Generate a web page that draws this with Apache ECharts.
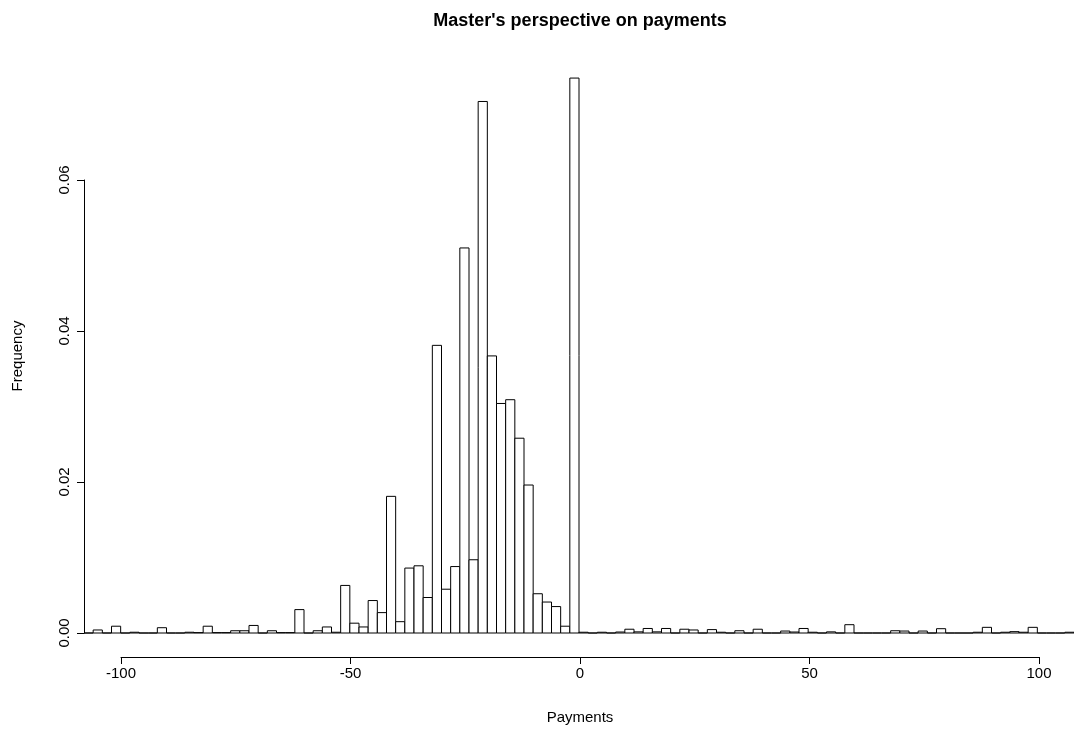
<!DOCTYPE html>
<html>
<head>
<meta charset="utf-8">
<script src="https://cdn.jsdelivr.net/npm/echarts@6/dist/echarts.min.js"></script>
<style>html,body{margin:0;padding:0;background:#fff;}#c{width:1074px;height:730px;}</style>
</head>
<body>
<div id="c"></div>
<script>
// Histogram bin edges (Payments)
const breaks = [-108,-106,-104,-102,-100,-98,-96,-94,-92,-90,-88,-86,-84,-82,-80,-78,-76,-74,-72,-70,
  -68,-66,-64,-62,-60,-58,-56,-54,-52,-50,-48,-46,-44,-42,-40,-38,-36,-34,-32,-30,
  -28,-26,-24,-22,-20,-18,-16,-14,-12,-10,-8,-6,-4,-2,0,2,4,6,8,10,
  12,14,16,18,20,22,24,26,28,30,32,34,36,38,40,42,44,46,48,50,
  52,54,56,58,60,62,64,66,68,70,72,74,76,78,80,82,84,86,88,90,
  92,94,96,98,100,102,104,106,108];
// Frequency (density) per bin
const density = [0,0.0004,0,0.0009,0,0.0001,0,0,0.0007,0,
  0,0.0001,0.00005,0.0009,0.00005,0.00005,0.0003,0.0003,0.001,0,
  0.0003,0.00005,0.00005,0.0031,0,0.0003,0.0008,0.0001,0.0063,0.0013,
  0.0008,0.0043,0.0027,0.0181,0.0015,0.0086,0.0089,0.0047,0.0381,0.0058,
  0.0088,0.0510,0.0097,0.0704,0.0367,0.0304,0.0309,0.0258,0.0196,0.0052,
  0.0041,0.0035,0.0009,0.0735,0.0001,0,0.0001,0,0.00013,0.0005,
  0.00015,0.0006,0.00015,0.0006,0,0.0005,0.0004,0,0.00045,0.0001,
  0,0.0003,0,0.0005,0,0,0.00026,0.00013,0.0006,0.0001,
  0,0.00015,0,0.0011,0,0,0,0,0.0003,0.00026,
  0,0.00026,0,0.00057,0,0,0,0.0001,0.00075,0,
  0.0001,0.00018,0.0001,0.00075,0,0,0,0.0001];
const xTicks = [-100,-50,0,50,100];
const yTicks = [0,0.02,0.04,0.06];
const titleText = "Master's perspective on payments";
const xLabel = 'Payments';
const yLabel = 'Frequency';

const rows = density.map((d,i)=>[breaks[i], breaks[i+1], d]);
const font = '"Liberation Sans", Arial, Helvetica, sans-serif';

const chart = echarts.init(document.getElementById('c'), null, {renderer:'canvas'});
chart.setOption({
  animation:false,
  backgroundColor:'#fff',
  grid:[
    {left:84, width:991.7, top:29, height:604},
    {left:121, width:918, top:29, height:604},
    {left:84, width:991.7, top:180, height:453}
  ],
  xAxis:[
    {gridIndex:0, type:'value', min:breaks[0], max:breaks[breaks.length-1], show:false},
    {gridIndex:1, type:'value', min:xTicks[0], max:xTicks[xTicks.length-1], interval:50, offset:24,
      position:'bottom',
      axisLine:{show:true, onZero:false, lineStyle:{color:'#000', width:1}},
      axisTick:{show:true, length:7, lineStyle:{color:'#000'}},
      axisLabel:{color:'#000', fontFamily:font, fontSize:15, margin:9},
      splitLine:{show:false}},
    {gridIndex:2, type:'value', min:breaks[0], max:breaks[breaks.length-1], show:false}
  ],
  yAxis:[
    {gridIndex:0, type:'value', min:0, max:0.08, show:false},
    {gridIndex:1, type:'value', min:0, max:0.08, show:false},
    {gridIndex:2, type:'value', min:yTicks[0], max:yTicks[yTicks.length-1], interval:0.02,
      position:'left',
      axisLine:{show:true, onZero:false, lineStyle:{color:'#000', width:1}},
      axisTick:{show:true, length:7, lineStyle:{color:'#000'}},
      axisLabel:{color:'#000', fontFamily:font, fontSize:15, rotate:90, margin:12,
        formatter:v=>v.toFixed(2)},
      splitLine:{show:false}}
  ],
  graphic:[
    {type:'text', x:580, y:21, style:{text:titleText, fontFamily:font, fontSize:18, fontWeight:'bold', fill:'#000', textAlign:'center', textVerticalAlign:'middle'}},
    {type:'text', x:580, y:718, style:{text:xLabel, fontFamily:font, fontSize:15, fill:'#000', textAlign:'center', textVerticalAlign:'middle'}},
    {type:'text', x:18, y:356, rotation:Math.PI/2, style:{text:yLabel, fontFamily:font, fontSize:15, fill:'#000', textAlign:'center', textVerticalAlign:'middle'}}
  ],
  series:[{
    type:'custom',
    xAxisIndex:0, yAxisIndex:0,
    data:rows,
    clip:false,
    renderItem:function(params, api){
      const p0 = api.coord([api.value(0), api.value(2)]);
      const p1 = api.coord([api.value(1), 0]);
      return {
        type:'rect',
        shape:{x:p0[0], y:p0[1], width:p1[0]-p0[0], height:p1[1]-p0[1]},
        style:{fill:'#fff', stroke:'#000', lineWidth:1}
      };
    }
  }]
});
</script>
</body>
</html>
